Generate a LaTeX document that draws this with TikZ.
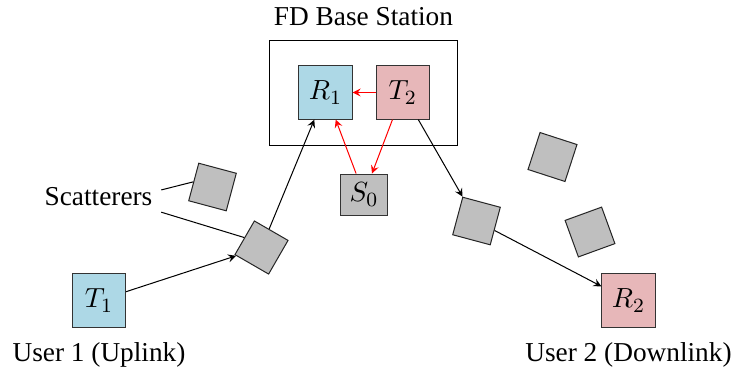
\documentclass[tikz,border=0pt]{standalone}
\usepackage{amsmath}
\usepackage{amssymb}
\usepackage[no-math]{fontspec}
\setmainfont{Liberation Serif}
\usepackage{tikz}
\usetikzlibrary{arrows, positioning}

\definecolor{uplink}{RGB}{173,216,230}
\definecolor{downlink}{RGB}{231,183,185}

\begin{document}
\begin{tikzpicture}[
            x = 0.0139cm, y = -0.0139cm, % one unit = one pixel of the sketch
            >= stealth, % arrow head style
            auto,
            every node/.style = {font = \fontsize{10.8pt}{13pt}\selectfont}
        ]

        \tikzstyle{box}=[
            draw = black!80,
            minimum size = 0.74cm,
            inner sep = 0pt
        ]
        \tikzstyle{scat}=[
            draw = black!85,
            fill = gray!50,
            minimum size = 0.54cm,
            inner sep = 0pt
        ]
        \tikzstyle{selfint}=[->, red]

        \useasboundingbox (0,0) rectangle (732,366);

        % base station
        \node[draw, minimum width = 2.6cm, minimum height = 1.47cm] (BS) at (363.5,93) {};
        \node (BSname) [above = 2pt of BS] {FD Base Station};
        \node[box, fill = uplink] (R1) at (325.5,92.5) {$R_1$};
        \node[box, fill = downlink] (T2) [right = 0.32cm of R1] {$T_2$};
        \node[box, fill = gray!50, minimum width = 0.64cm, minimum height = 0.57cm] (S0) at (364,194.5) {$S_0$};

        % users
        \node[box, fill = uplink] (T1) at (99,300.5) {$T_1$};
        \node[box, fill = downlink] (R2) at (628.5,300.5) {$R_2$};
        \node (U1) [below = 0.08cm of T1] {User 1 (Uplink)};
        \node (U2) [below = 0.08cm of R2] {User 2 (Downlink)};

        % scatterers
        \node[scat, rotate = -15] (SA) at (212.5,187) {};
        \node[scat, rotate = -30] (SB) at (261.5,247.5) {};
        \node[scat, rotate = -15] (SC) at (476.5,221) {};
        \node[scat, rotate = -18] (SD) at (552.5,157) {};
        \node[scat, rotate = 20] (SE) at (590,232) {};
        \node (Scat) at (98.5,197) {Scatterers};

        \path[-] ([yshift = 2.8pt]Scat.east) edge (SA.west);
        \path[-] ([yshift = -6pt]Scat.east) edge (SB.west);

        % links
        \path[->] (T1) edge (SB);
        \path[->] (SB) edge (R1);
        \path[->] (T2) edge (SC);
        \path[->] (SC) edge (R2);

        % self interference
        \path[selfint] (T2) edge (R1);
        \path[selfint] (T2) edge (S0);
        \path[selfint] (S0) edge (R1);
    \end{tikzpicture}
\end{document}
